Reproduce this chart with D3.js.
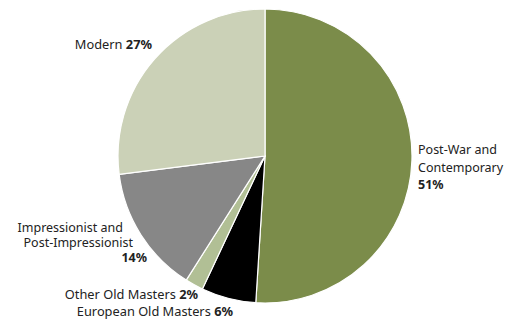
<!DOCTYPE html>
<html><head><meta charset="utf-8">
<script src="https://cdn.jsdelivr.net/npm/d3@7"></script>
<style>html,body{margin:0;padding:0;background:#fff}svg{display:block}</style>
</head><body>
<svg id="c" width="515" height="322"></svg>
<script>
const categories = ["Post-War and Contemporary","European Old Masters","Other Old Masters","Impressionist and Post-Impressionist","Modern"];
const values = [51, 6, 2, 14, 27];
const colors = ["#7b8c4a", "#000000", "#b1bf95", "#878787", "#cbd1b7"];
const svg = d3.select("#c");
const cx = 265, cy = 156, r = 147;
const pie = d3.pie().sort(null).value(d => d)(values);
const arc = d3.arc().innerRadius(0).outerRadius(r);
const g = svg.append("g").attr("transform", `translate(${cx},${cy})`);
g.selectAll("path").data(pie).join("path")
  .attr("d", arc).attr("fill", (d,i) => colors[i])
  .attr("stroke", "#fff").attr("stroke-width", 1.2);

const font = "'Noto Sans', sans-serif";
function label(lines, anchor, size) {
  lines.forEach(l => {
    const t = svg.append("text").attr("font-family", font).attr("font-size", size || 12.8)
      .attr("fill", "#222").attr("text-anchor", anchor).attr("x", l.x).attr("y", l.y);
    l.parts.forEach(p => t.append("tspan").attr("font-weight", p.b ? "bold" : "normal").text(p.t));
  });
}
const pct = v => v + "%";
label([{x:152, y:49, parts:[{t:"Modern "},{t:pct(values[4]), b:1}]}], "end");
label([
  {x:418, y:154, parts:[{t:"Post-War and"}]},
  {x:418, y:171.5, parts:[{t:"Contemporary"}]},
  {x:418, y:189, parts:[{t:pct(values[0]), b:1}]}
], "start", 12.5);
label([
  {x:123, y:231.5, parts:[{t:"Impressionist and"}]},
  {x:133, y:246.5, parts:[{t:"Post-Impressionist"}]},
  {x:147, y:261.5, parts:[{t:pct(values[3]), b:1}]}
], "end", 12.5);
label([{x:198, y:299, parts:[{t:"Other Old Masters "},{t:pct(values[2]), b:1}]}], "end");
label([{x:233, y:316, parts:[{t:"European Old Masters "},{t:pct(values[1]), b:1}]}], "end");
</script>
</body></html>
